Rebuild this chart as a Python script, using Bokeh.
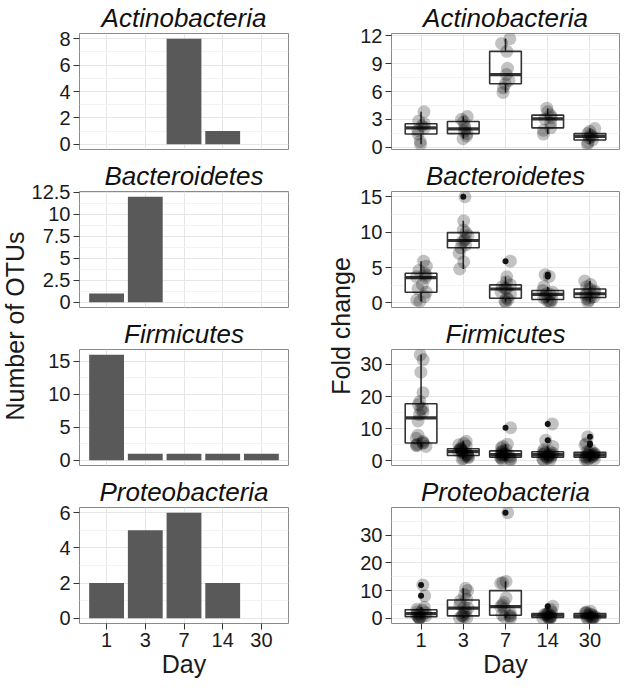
import numpy as np
from bokeh.plotting import figure
from bokeh.layouts import row, column
from bokeh.models import FactorRange, Range1d, FixedTicker, ColumnDataSource
from bokeh.transform import jitter, dodge
from bokeh.core.properties import value
from bokeh.embed import file_html
from bokeh.resources import INLINE

# ---------------- data ----------------
days = ["1", "3", "7", "14", "30"]
phyla = ["Actinobacteria", "Bacteroidetes", "Firmicutes", "Proteobacteria"]

# Number of OTUs per day (left column)
otus_actinobacteria = [0, 0, 8, 1, 0]
otus_bacteroidetes = [1, 12, 0, 0, 0]
otus_firmicutes = [16, 1, 1, 1, 1]
otus_proteobacteria = [2, 5, 6, 2, 0]

# y tick labels, left column
ticks_otus_actinobacteria = [0, 2, 4, 6, 8]
ticks_otus_bacteroidetes = [0, 2.5, 5, 7.5, 10, 12.5]
ticks_otus_firmicutes = [0, 5, 10, 15]
ticks_otus_proteobacteria = [0, 2, 4, 6]

# Fold change per OTU, one list per day (right column)
fc_actinobacteria = [
    [0.3, 0.6, 1.4, 1.8, 2.07, 2.3, 2.52, 2.8, 3.8],
    [0.9, 1.2, 1.45, 1.7, 1.97, 2.3, 2.76, 3.0, 3.3],
    [5.9, 6.4, 6.83, 7.2, 7.83, 8.5, 10.34, 11.2, 11.7],
    [1.4, 1.8, 2.07, 2.6, 3.03, 3.2, 3.45, 3.8, 4.2],
    [0.3, 0.5, 0.76, 1.0, 1.14, 1.3, 1.45, 1.7, 2.0],
]
fc_bacteroidetes = [
    [0.2, 0.4, 0.9, 1.52, 2.0, 2.6, 3.58, 3.7, 3.9, 4.2, 4.6, 5.2, 5.9],
    [4.8, 5.8, 7.0, 7.79, 8.2, 8.6, 8.82, 9.0, 9.5, 9.94, 10.3, 11.6, 15.0],
    [0.1, 0.3, 0.5, 0.67, 1.2, 1.6, 1.97, 2.1, 2.3, 2.55, 3.0, 3.7, 5.9],
    [0.1, 0.2, 0.3, 0.49, 0.7, 0.9, 1.21, 1.3, 1.5, 1.75, 2.3, 3.75, 4.0],
    [0.1, 0.4, 0.6, 0.76, 0.9, 1.1, 1.3, 1.5, 1.7, 1.97, 2.3, 2.6, 3.1],
]
fc_firmicutes = [
    [4.5, 4.7, 4.9, 5.2, 5.5, 5.6, 6.1, 7.0, 8.0, 12.4, 14.4, 15.2, 16.0, 16.3, 17.5, 18.5, 21.2, 27.6, 31.5, 33.0],
    [0.5, 0.8, 1.0, 1.3, 1.5, 1.7, 2.0, 2.3, 2.6, 2.8, 3.0, 3.2, 3.4, 3.6, 3.7, 4.0, 4.6, 5.0, 5.5, 6.1],
    [0.2, 0.4, 0.6, 0.9, 1.1, 1.2, 1.5, 1.7, 1.9, 1.95, 1.97, 2.2, 2.5, 2.8, 3.0, 3.4, 4.0, 4.5, 5.2, 10.3],
    [0.2, 0.4, 0.6, 0.8, 1.1, 1.2, 1.4, 1.6, 1.8, 1.9, 2.0, 2.2, 2.4, 2.6, 2.8, 2.9, 3.5, 4.5, 6.4, 11.5],
    [0.2, 0.4, 0.6, 0.8, 1.1, 1.2, 1.3, 1.5, 1.7, 1.8, 1.9, 2.0, 2.2, 2.4, 2.6, 2.8, 3.5, 5.0, 5.4, 7.5],
]
fc_proteobacteria = [
    [0.1, 0.2, 0.3, 0.5, 0.64, 1.0, 1.3, 1.71, 2.0, 2.4, 2.9, 3.26, 4.0, 8.1, 12.0],
    [0.1, 0.3, 0.6, 0.8, 1.02, 1.8, 2.5, 3.65, 4.0, 5.0, 6.3, 6.92, 8.5, 10.0, 10.8],
    [0.1, 0.4, 0.8, 1.0, 1.28, 2.0, 3.4, 4.2, 4.8, 5.7, 7.4, 12.6, 12.8, 13.3, 38.0],
    [0.05, 0.1, 0.2, 0.3, 0.38, 0.6, 0.9, 1.14, 1.3, 1.5, 1.65, 1.77, 2.3, 3.2, 4.4],
    [0.05, 0.1, 0.15, 0.2, 0.26, 0.4, 0.6, 0.91, 1.1, 1.3, 1.6, 1.82, 2.0, 2.3, 2.6],
]

# y tick labels, right column
ticks_fc_actinobacteria = [0, 3, 6, 9, 12]
ticks_fc_bacteroidetes = [0, 5, 10, 15]
ticks_fc_firmicutes = [0, 10, 20, 30]
ticks_fc_proteobacteria = [0, 10, 20, 30]

otus = [otus_actinobacteria, otus_bacteroidetes, otus_firmicutes, otus_proteobacteria]
otu_ticks = [ticks_otus_actinobacteria, ticks_otus_bacteroidetes, ticks_otus_firmicutes, ticks_otus_proteobacteria]
fcs = [fc_actinobacteria, fc_bacteroidetes, fc_firmicutes, fc_proteobacteria]
fc_ticks = [ticks_fc_actinobacteria, ticks_fc_bacteroidetes, ticks_fc_firmicutes, ticks_fc_proteobacteria]

# ---------------- style ----------------
FONT = "Liberation Sans"
FH = 116          # frame height
TOP = 32          # title band
GAP = 9           # band below non-bottom panels
BOTTOM = 61       # x axis band of bottom panels
TEXT = "#1A1A1A"
GRID_MAJOR = "#E6E6E6"
GRID_MINOR = "#F3F3F3"
BORDER = "#8A8A8A"
BAR = "#595959"
BOXLINE = "#333333"


def expand(lo, hi):
    d = (hi - lo) * 0.05
    return lo - d, hi + d


def minor_of(ticks, lo, hi):
    step = ticks[1] - ticks[0]
    cands = [ticks[0] - step / 2] + [t + step / 2 for t in ticks]
    return [c for c in cands if lo <= c <= hi]


def panel(title, ylo, yhi, ticks, frame_w, bl, br, bottom):
    p = figure(
        x_range=FactorRange(factors=days, range_padding=0.2, range_padding_units="absolute"),
        y_range=Range1d(ylo, yhi),
        frame_width=frame_w, frame_height=FH,
        min_border_left=bl, min_border_right=br, min_border_top=TOP,
        min_border_bottom=BOTTOM if bottom else GAP,
        output_backend="svg", toolbar_location=None, title=title,
    )
    p.title.text_font = FONT
    p.title.text_font_style = "italic"
    p.title.text_font_size = "26px"
    p.title.text_color = "#111111"
    p.title.align = "center"
    p.title.standoff = 1
    p.outline_line_color = BORDER
    p.outline_line_width = 1
    p.background_fill_color = "white"
    p.border_fill_color = "white"

    p.xgrid.grid_line_color = GRID_MAJOR
    p.ygrid.grid_line_color = GRID_MAJOR
    p.ygrid.minor_grid_line_color = GRID_MINOR

    yax = p.yaxis[0]
    yax.ticker = FixedTicker(ticks=ticks, minor_ticks=minor_of(ticks, ylo, yhi))
    for ax in (yax, p.xaxis[0]):
        ax.axis_line_color = None
        ax.major_tick_line_color = BOXLINE
        ax.major_tick_in = 0
        ax.major_tick_out = 6
        ax.minor_tick_line_color = None
        ax.major_label_text_font = FONT
        ax.major_label_text_font_size = "20px"
        ax.major_label_text_color = TEXT
        ax.major_label_standoff = 3
    if bottom:
        xa = p.xaxis[0]
        xa.axis_label = "Day"
        xa.axis_label_text_font = FONT
        xa.axis_label_text_font_size = "25px"
        xa.axis_label_text_font_style = "normal"
        xa.axis_label_text_color = TEXT
        xa.axis_label_standoff = 0
    else:
        p.xaxis.visible = False
    return p


# ---------------- left column: bars ----------------
left = []
for i, name in enumerate(phyla):
    ylo, yhi = expand(0, max(otus[i]))
    p = panel(name, ylo, yhi, otu_ticks[i], 209, 48, 6, i == 3)
    src = ColumnDataSource(dict(day=days, n=otus[i]))
    p.vbar(x="day", top="n", bottom=0, width=0.9, source=src,
           fill_color=BAR, line_color=None)
    left.append(p)

# ---------------- right column: boxplots + jitter ----------------
right = []
for i, name in enumerate(phyla):
    allv = [v for grp in fcs[i] for v in grp]
    ylo, yhi = expand(min(allv), max(allv))
    p = panel(name, ylo, yhi, fc_ticks[i], 228, 36, 2, i == 3)

    q1s, meds, q3s, los, his = [], [], [], [], []
    out_d, out_v, pt_d, pt_v = [], [], [], []
    for d, grp in zip(days, fcs[i]):
        v = np.array(grp, dtype=float)
        q1, med, q3 = np.percentile(v, [25, 50, 75])
        iqr = q3 - q1
        inside = v[(v >= q1 - 1.5 * iqr) & (v <= q3 + 1.5 * iqr)]
        lo, hi = inside.min(), inside.max()
        q1s.append(q1); meds.append(med); q3s.append(q3); los.append(lo); his.append(hi)
        for x in v:
            if x < lo or x > hi:
                out_d.append(d); out_v.append(x)
            pt_d.append(d); pt_v.append(x)

    bsrc = ColumnDataSource(dict(day=days, q1=q1s, med=meds, q3=q3s, lo=los, hi=his))
    p.segment(x0="day", y0="q3", x1="day", y1="hi", source=bsrc, line_color=BOXLINE, line_width=1.6)
    p.segment(x0="day", y0="q1", x1="day", y1="lo", source=bsrc, line_color=BOXLINE, line_width=1.6)
    p.vbar(x="day", top="q3", bottom="q1", width=0.75, source=bsrc,
           fill_color="white", line_color=BOXLINE, line_width=1.6)
    p.segment(x0=dodge("day", -0.375, range=p.x_range), y0="med",
              x1=dodge("day", 0.375, range=p.x_range), y1="med",
              source=bsrc, line_color=BOXLINE, line_width=3.2)
    osrc = ColumnDataSource(dict(day=out_d, v=out_v))
    p.scatter(x="day", y="v", source=osrc, size=6, fill_color=TEXT, line_color=None)
    psrc = ColumnDataSource(dict(day=pt_d, v=pt_v))
    p.scatter(x=jitter("day", width=0.25, range=p.x_range), y="v", source=psrc,
              size=13, fill_color="black", fill_alpha=0.24, line_color=None)
    right.append(p)

# ---------------- shared y-axis titles ----------------
COL_H = 3 * (TOP + FH + GAP) + TOP + FH + BOTTOM
yc = (TOP + (COL_H - BOTTOM)) / 2.0


def ylabel_fig(text, w, xc):
    p = figure(x_range=Range1d(0, w), y_range=Range1d(COL_H, 0), width=w, height=COL_H,
               min_border=0, output_backend="svg", toolbar_location=None)
    p.axis.visible = False
    p.grid.visible = False
    p.outline_line_color = None
    p.text(x=[xc], y=[yc], text=[text], angle=np.pi / 2, text_align="center",
           text_baseline="middle", text_font=value(FONT), text_font_size="25px",
           text_color=TEXT)
    return p


lab_left = ylabel_fig("Number of OTUs", 28, 14)
lab_right = ylabel_fig("Fold change", 61, 46)

layout = row(lab_left, column(*left), lab_right, column(*right))

open("out.html", "w").write(file_html(layout, INLINE))
